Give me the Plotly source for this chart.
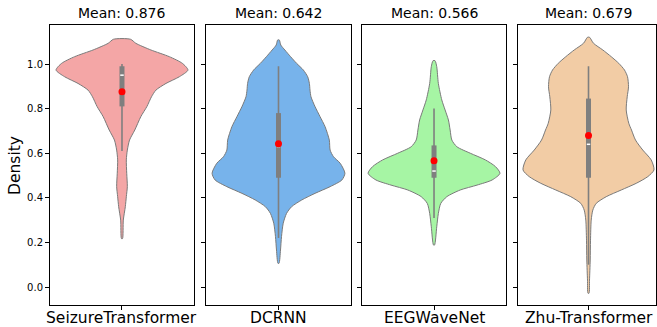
import plotly.graph_objects as go

# ---------------- data ----------------
models = ["SeizureTransformer", "DCRNN", "EEGWaveNet", "Zhu-Transformer"]
means = [0.876, 0.642, 0.566, 0.679]

# density profile of each violin: y levels and relative density (half-width)
st_y = [0.217, 0.30, 0.36, 0.405, 0.45, 0.51, 0.57, 0.614, 0.659, 0.704, 0.764, 0.809,
        0.853, 0.883, 0.913, 0.943, 0.973, 1.003, 1.033, 1.063, 1.093, 1.111]
st_d = [0.5, 1.3, 3.3, 4.3, 5.3, 4.7, 4.3, 5.3, 7.5, 12.7, 18.7, 24.7,
        29.3, 33.7, 43.7, 57.0, 65.5, 60.0, 47.0, 28.7, 13.7, 8.5]

dc_y = [0.106, 0.166, 0.226, 0.286, 0.33, 0.36, 0.39, 0.42, 0.45, 0.48, 0.51, 0.555,
        0.584, 0.614, 0.659, 0.719, 0.764, 0.809, 0.853, 0.883, 0.913, 0.943, 0.973,
        1.003, 1.033, 1.063, 1.085, 1.108]
dc_d = [0.5, 2.0, 3.0, 4.7, 8.0, 13.0, 23.0, 36.3, 51.3, 63.0, 66.0, 61.3,
        54.7, 51.3, 50.5, 46.3, 41.3, 36.3, 32.3, 31.3, 30.7, 29.0, 24.7,
        18.0, 12.0, 6.3, 2.3, 0.8]

ew_y = [0.188, 0.27, 0.33, 0.375, 0.405, 0.435, 0.457, 0.48, 0.51, 0.54, 0.57, 0.60,
        0.629, 0.659, 0.704, 0.749, 0.794, 0.839, 0.913, 0.988, 1.015]
ew_d = [0.5, 2.7, 4.3, 6.7, 12.7, 26.0, 42.7, 57.7, 65.5, 61.0, 51.0, 36.0,
        22.7, 17.7, 16.0, 14.3, 11.0, 7.7, 4.3, 2.7, 1.0]

zt_y = [-0.028, 0.031, 0.121, 0.21, 0.30, 0.345, 0.375, 0.405, 0.435, 0.465, 0.495,
        0.525, 0.57, 0.614, 0.659, 0.704, 0.734, 0.794, 0.853, 0.898, 0.943, 0.973,
        1.003, 1.033, 1.063, 1.093, 1.12]
zt_d = [0.5, 1.0, 1.7, 2.0, 2.7, 4.3, 7.7, 17.7, 32.7, 47.7, 59.3,
        65.5, 62.7, 54.3, 47.0, 43.0, 40.3, 37.7, 38.7, 40.0, 39.0, 36.0,
        30.3, 22.7, 14.3, 5.0, 1.0]

profiles_y = [st_y, dc_y, ew_y, zt_y]
profiles_d = [st_d, dc_d, ew_d, zt_d]

# inner box statistics
q1 = [0.81, 0.49, 0.49, 0.49]
median = [0.95, 0.63, 0.52, 0.64]
q3 = [0.99, 0.78, 0.635, 0.845]
whisk_lo = [0.61, 0.22, 0.31, 0.10]
whisk_hi = [1.00, 0.99, 0.80, 0.99]

yticks = [0.0, 0.2, 0.4, 0.6, 0.8, 1.0]

# ---------------- style ----------------
fills = ["#F4A6A6", "#77B3EB", "#A6F5A4", "#F2CCA5"]
outline = "#7a7a7a"
boxcol = "#7f7f7f"
FONT = "DejaVu Sans"
HALF = 0.458  # max half-width in x units

domains = [(0.0, 0.2376), (0.2574, 0.4967), (0.5149, 0.7525), (0.7723, 1.0)]
xranges = [[-0.5, 0.5], [-0.5, 0.5], [-0.5, 0.5], [-0.493, 0.472]]

fig = go.Figure()

for i in range(4):
    xa = "x" if i == 0 else f"x{i+1}"
    ya = "y" if i == 0 else f"y{i+1}"
    ys = profiles_y[i]
    ds = profiles_d[i]
    m = max(ds)
    w = [d / m * HALF for d in ds]
    px = [-v for v in w] + list(reversed(w)) + [-w[0]]
    py = list(ys) + list(reversed(ys)) + [ys[0]]
    fig.add_trace(go.Scatter(x=px, y=py, xaxis=xa, yaxis=ya, mode="lines",
                             fill="toself", fillcolor=fills[i],
                             line=dict(color=outline, width=1, shape="spline", smoothing=0.7),
                             hoverinfo="skip", showlegend=False))
    # whisker
    fig.add_trace(go.Scatter(x=[0, 0], y=[whisk_lo[i], whisk_hi[i]], xaxis=xa, yaxis=ya,
                             mode="lines", line=dict(color=boxcol, width=1.6),
                             hoverinfo="skip", showlegend=False))
    # box
    fig.add_trace(go.Scatter(x=[0, 0], y=[q1[i], q3[i]], xaxis=xa, yaxis=ya,
                             mode="lines", line=dict(color=boxcol, width=5),
                             hoverinfo="skip", showlegend=False))
    # median
    fig.add_trace(go.Scatter(x=[-0.012, 0.012], y=[median[i], median[i]], xaxis=xa, yaxis=ya,
                             mode="lines", line=dict(color="white", width=1.5),
                             hoverinfo="skip", showlegend=False))
    # mean
    fig.add_trace(go.Scatter(x=[0], y=[means[i]], xaxis=xa, yaxis=ya, mode="markers",
                             marker=dict(color="red", size=7, line=dict(width=0)),
                             hoverinfo="skip", showlegend=False))

    xkey = "xaxis" if i == 0 else f"xaxis{i+1}"
    ykey = "yaxis" if i == 0 else f"yaxis{i+1}"
    fig.layout[xkey] = dict(domain=list(domains[i]), range=xranges[i], anchor=ya,
                            tickvals=[0], showticklabels=False, ticks="outside", ticklen=4,
                            tickcolor="black", showgrid=False, zeroline=False,
                            showline=True, mirror=True, linecolor="black", linewidth=1,
                            fixedrange=True, automargin=False)
    fig.layout[ykey] = dict(domain=[0, 1], range=[-0.0807, 1.175], anchor=xa,
                            tickvals=yticks, ticktext=[f"{v:.1f}" for v in yticks],
                            showticklabels=(i == 0), ticks="outside", ticklen=4,
                            tickcolor="black", showgrid=False, zeroline=False,
                            showline=True, mirror=True, linecolor="black", linewidth=1,
                            tickfont=dict(family=FONT, size=10, color="black"),
                            fixedrange=True, automargin=False)
    # category label under the axis
    fig.add_annotation(text=models[i], xref=xa, yref="paper", x=0, y=0,
                       yanchor="middle", yshift=-13, showarrow=False,
                       font=dict(family=FONT, size=15.5, color="black"))
    # panel title
    fig.add_annotation(text=f"Mean: {means[i]:.3f}", xref=xa, yref="paper", x=0, y=1,
                       yanchor="bottom", yshift=2, showarrow=False,
                       font=dict(family=FONT, size=14, color="black"))

fig.add_annotation(text="Density", xref="paper", yref="paper", x=-0.0578, y=0.5,
                   textangle=-90, showarrow=False, xanchor="center", yanchor="middle",
                   font=dict(family=FONT, size=15.5, color="black"))

fig.update_layout(width=657, height=327, margin=dict(l=50, r=1, t=25, b=22),
                  paper_bgcolor="white", plot_bgcolor="white",
                  font=dict(family=FONT, color="black"))

fig.write_html("out.html", config={"displayModeBar": False},
               post_script="document.body.style.margin='0px';document.body.style.overflow='hidden';")
